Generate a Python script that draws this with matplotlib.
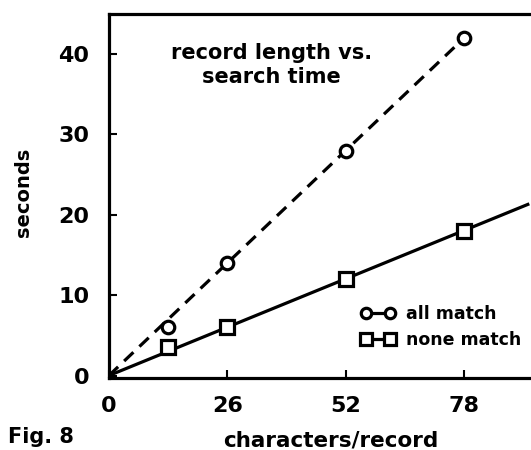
import matplotlib.pyplot as plt
from matplotlib.lines import Line2D

# Data
chars = [13, 26, 52, 78]
all_match = [6, 14, 28, 42]
none_match = [3.6, 6, 12, 18]

# fitted lines drawn through the origin
all_line_x = [0, 78]
all_line_y = [0, 42]
none_line_x = [0, 92]
none_line_y = [0, 21.3]

x_ticks = [0, 26, 52, 78]
y_ticks = [0, 10, 20, 30, 40]

plt.rcParams['font.family'] = 'DejaVu Sans'
plt.rcParams['font.weight'] = 'bold'

fig = plt.figure(figsize=(5.31, 4.5), dpi=100)
ax = fig.add_axes([0.205, 0.16, 0.795, 0.809])

ax.plot(all_line_x, all_line_y, color='black', linestyle=(0, (4, 2.6)), linewidth=2.3)
ax.plot(none_line_x, none_line_y, color='black', linewidth=2.3)
ax.plot(chars, all_match, linestyle='none', marker='o', markersize=9,
        markerfacecolor='white', markeredgecolor='black', markeredgewidth=2.3)
ax.plot(chars, none_match, linestyle='none', marker='s', markersize=9.5,
        markerfacecolor='white', markeredgecolor='black', markeredgewidth=2.3)

ax.set_xlim(0, 92.7)
ax.set_ylim(-0.3, 45)
ax.spines['right'].set_visible(False)
for s in ['left', 'bottom', 'top']:
    ax.spines[s].set_linewidth(2.3)

ax.set_xticks(x_ticks)
ax.set_yticks(y_ticks)
ax.tick_params(direction='in', length=6, width=1.5, labelsize=16)
ax.tick_params(axis='x', pad=13)
ax.tick_params(axis='y', pad=14)

ax.set_xlabel('characters/record', fontsize=15.5, fontweight='bold', labelpad=2)
ax.xaxis.set_label_coords(0.525, -0.145)
ax.set_ylabel('seconds', fontsize=14, fontweight='bold')
ax.yaxis.set_label_coords(-0.18, 0.51)

ax.text(0.385, 0.86, 'record length vs.\nsearch time', transform=ax.transAxes,
        ha='center', va='center', fontsize=15, fontweight='bold', linespacing=1.25)

handles = [
    Line2D([0], [0], color='black', linewidth=2.3, marker='o', markersize=7.5,
           markerfacecolor='white', markeredgewidth=2.3),
    Line2D([0], [0], color='black', linewidth=2.3, marker='s', markersize=8,
           markerfacecolor='white', markeredgewidth=2.3),
]
ax.legend(handles, ['all match', 'none match'], loc='upper left',
          bbox_to_anchor=(0.597, 0.2), frameon=False, numpoints=2,
          borderpad=0, borderaxespad=0,
          handlelength=2.0, handletextpad=0.6, labelspacing=0.45,
          prop={'size': 12.5, 'weight': 'bold'})

fig.text(8 / 531, 0.015, 'Fig. 8', fontsize=15, fontweight='bold')

fig.savefig('out.png', dpi=100)
